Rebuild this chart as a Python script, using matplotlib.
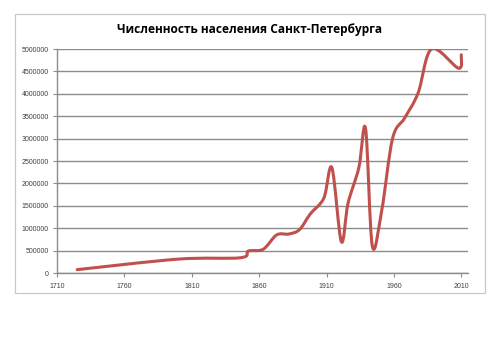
import matplotlib
matplotlib.use("Agg")
import matplotlib.pyplot as plt
from matplotlib.path import Path
from matplotlib.patches import PathPatch, Rectangle
import numpy as np

title = "Численность населения Санкт-Петербурга"
years = [1725, 1800, 1846, 1852, 1863, 1873, 1882, 1890, 1898, 1908, 1914, 1921,
         1926, 1934, 1939, 1944, 1951, 1959, 1968, 1978, 1988, 2008, 2010]
population = [75000, 310000, 340000, 490000, 530000, 850000, 870000, 970000,
              1320000, 1670000, 2350000, 700000, 1560000, 2350000, 3220000,
              600000, 1400000, 3000000, 3460000, 4020000, 5000000, 4570000, 4870000]
x_ticks = [1710, 1760, 1810, 1860, 1910, 1960, 2010]
y_ticks = [0, 500000, 1000000, 1500000, 2000000, 2500000, 3000000, 3500000,
           4000000, 4500000, 5000000]

fig = plt.figure(figsize=(5.0, 3.54), dpi=100)
fig.patch.set_facecolor("white")

# chart frame
fig.patches.append(Rectangle((15/500, 1-293/354), 470/500, 279/354,
                             transform=fig.transFigure, fill=False,
                             edgecolor="#c8c8c8", lw=0.9))

ax = fig.add_axes([57/500, 1-273/354, 411/500, 224/354])
ax.set_xlim(1710, 2015)
ax.set_ylim(0, 5000000)
ax.set_xticks(x_ticks)
ax.set_yticks(y_ticks)
ax.set_xticklabels([str(v) for v in x_ticks])
ax.set_yticklabels([str(v) for v in y_ticks])
grid_c = "#8c8c8c"
for s in ["top", "right"]:
    ax.spines[s].set_visible(False)
for s in ["left", "bottom"]:
    ax.spines[s].set_color(grid_c)
    ax.spines[s].set_linewidth(1.0)
ax.yaxis.grid(True, color=grid_c, lw=1.0)
ax.set_axisbelow(True)
ax.tick_params(axis="both", colors=grid_c, labelcolor="#404040", labelsize=5,
               length=3, width=0.8, direction="out")
ax.tick_params(axis="y", pad=3)
ax.tick_params(axis="x", pad=4)
for lab in ax.get_xticklabels() + ax.get_yticklabels():
    lab.set_family(["Liberation Sans", "DejaVu Sans"])

# smoothed line (Catmull-Rom Bezier through the data points, like Excel smoothing)
xs = np.array(years, dtype=float)
ys = np.array(population, dtype=float)
n = len(xs)
verts = [(xs[0], ys[0])]
codes = [Path.MOVETO]
t = 1/6
for i in range(n - 1):
    p0 = (xs[max(i-1, 0)], ys[max(i-1, 0)])
    p1 = (xs[i], ys[i])
    p2 = (xs[i+1], ys[i+1])
    p3 = (xs[min(i+2, n-1)], ys[min(i+2, n-1)])
    c1 = (p1[0] + (p2[0]-p0[0])*t, p1[1] + (p2[1]-p0[1])*t)
    c2 = (p2[0] - (p3[0]-p1[0])*t, p2[1] - (p3[1]-p1[1])*t)
    verts += [c1, c2, p2]
    codes += [Path.CURVE4, Path.CURVE4, Path.CURVE4]
path = Path(verts, codes)
ax.add_patch(PathPatch(path, facecolor="none", edgecolor="#c0504d", lw=2.2,
                       capstyle="round", joinstyle="round", zorder=3))

fig.text(250/500, 1-30/354, title, ha="center", va="center", fontsize=8.6,
         fontweight="bold", family=["Open Sans", "DejaVu Sans"], color="black")

fig.savefig("out.png", dpi=100, facecolor="white")
